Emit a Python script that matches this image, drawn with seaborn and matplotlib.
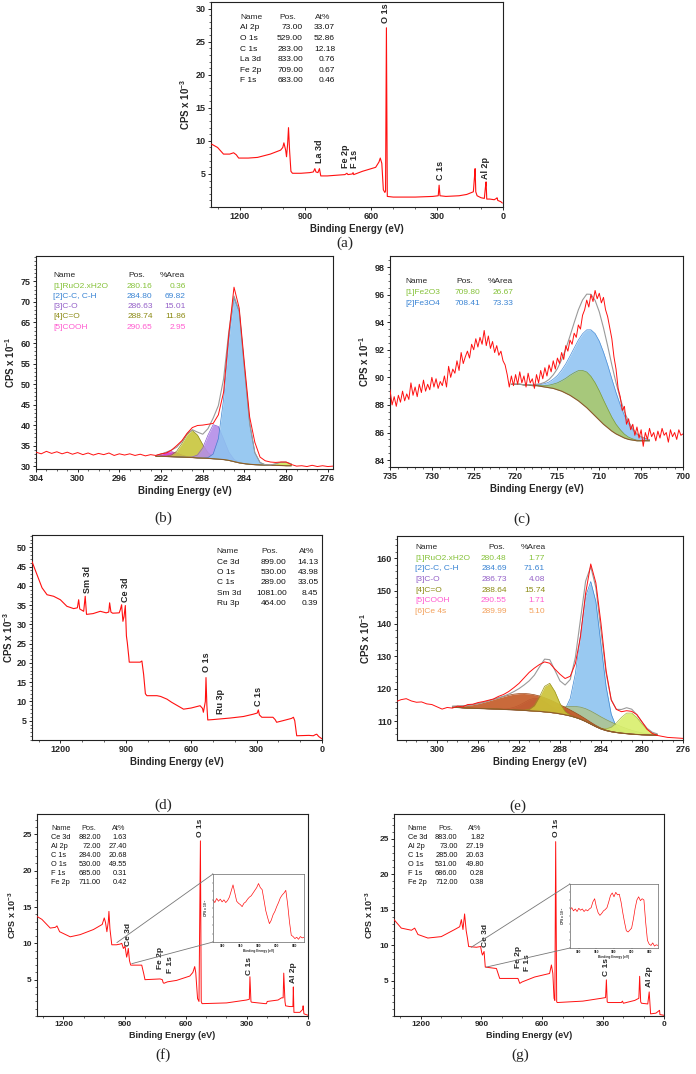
import numpy as np
import seaborn as sns
import matplotlib.pyplot as plt
from matplotlib.ticker import MultipleLocator, FixedLocator
from matplotlib.patches import ConnectionPatch

# ---------------- data ----------------
# (a) survey
a_be = [1327, 1300, 1273, 1245, 1227, 1215, 1204, 1160, 1118, 1060, 1013, 1003, 998, 990, 986,
        981, 977, 972, 966, 959, 920, 880, 864, 857, 852, 843, 836, 830, 800, 760, 720, 711,
        706, 686, 683, 680, 640, 600, 580, 565, 559, 552, 545, 538, 535, 531, 527, 500, 400,
        320, 295, 291, 287, 260, 200, 165, 150, 135, 130, 127, 124, 118, 100, 85, 80, 77, 74,
        60, 40, 30, 27, 24, 10, 3]
a_cps = [9.5, 9.0, 8.0, 8.0, 8.2, 7.9, 7.4, 7.4, 7.5, 8.0, 8.6, 9.0, 9.7, 8.6, 7.6,
         9.5, 12.0, 8.5, 5.4, 5.1, 5.1, 5.2, 5.3, 5.8, 5.3, 5.2, 5.8, 4.7, 4.7, 4.8, 4.9, 5.1,
         4.9, 5.0, 5.2, 4.9, 5.4, 5.8, 6.0, 6.8, 7.4, 6.6, 2.6, 2.2, 2.4, 27.1, 1.6, 1.5, 1.5,
         1.6, 1.7, 3.3, 1.7, 1.6, 1.7, 1.9, 2.1, 2.3, 4.5, 5.8, 2.3, 1.7, 1.4, 1.3, 3.0, 3.8, 1.2,
         1.2, 1.1, 1.3, 1.4, 1.0, 0.8, 0.6]
a_names = ['Al 2p', 'O 1s', 'C 1s', 'La 3d', 'Fe 2p', 'F 1s']
a_pos = [73.00, 529.00, 283.00, 833.00, 709.00, 683.00]
a_at = [33.07, 52.86, 12.18, 0.76, 0.67, 0.46]
a_peaks = ['O 1s', 'La 3d', 'Fe 2p', 'F 1s', 'C 1s', 'Al 2p']
a_peak_be = [536, 835, 718, 676, 286, 79]
a_peak_y = [27.8, 6.6, 5.9, 5.9, 4.1, 4.3]

# (b) C 1s high resolution
b_cps = [33.4, 33.0, 33.6, 33.1, 33.5, 33.0, 33.4, 32.9, 33.3, 32.8, 33.2, 32.7,
         33.1, 32.8, 33.2, 32.6, 33.0, 32.7, 33.0, 32.6, 32.9, 32.5, 32.8, 32.6,
         33.0, 33.2, 33.9, 35.0, 36.2, 38.0, 39.4, 39.9, 40.0, 40.2, 40.4, 42.5,
         48.0, 62.0, 73.6, 68.5, 55.0, 42.0, 35.8, 32.2, 31.3, 31.0, 30.9, 31.0,
         31.0, 30.4, 30.0, 30.1, 29.9, 30.2, 29.9, 30.1, 29.9, 30.0]
b_be = np.linspace(304, 275.5, len(b_cps))
b_bg = [32.4, 32.4, 32.35, 32.3, 32.25, 32.2, 32.15, 32.1, 32.0, 31.95, 31.9, 31.8, 31.7,
        31.6, 31.4, 31.1, 30.8, 30.6, 30.45, 30.35, 30.3, 30.25, 30.2, 30.2, 30.15, 30.1, 30.1]
b_fit_be = np.linspace(292.5, 279.5, len(b_bg))
b_centre = [291.0, 289.0, 286.8, 284.85, 280.2]
b_height = [1.2, 6.6, 8.6, 40.5, 0.9]
b_fwhm = [1.8, 2.0, 1.8, 1.9, 1.4]
b_names = ['[1]RuO2.xH2O', '[2]C-C, C-H', '[3]C-O', '[4]C=O', '[5]COOH']
b_pos = [280.16, 284.80, 286.63, 288.74, 290.65]
b_area = [0.36, 69.82, 15.01, 11.86, 2.95]

# (c) Fe 2p high resolution
c_cps = [89.1, 88.0, 88.6, 87.9, 88.7, 88.2, 89.0, 88.3, 88.8, 88.4, 89.6, 88.7,
         89.3, 88.6, 89.5, 88.9, 89.8, 89.0, 89.5, 89.1, 90.0, 89.3, 89.9, 89.2,
         89.7, 89.4, 90.1, 89.3, 90.8, 90.0, 90.6, 90.3, 91.2, 90.5, 91.8, 91.0,
         91.5, 91.9, 91.4, 92.4, 92.0, 92.8, 92.2, 92.9, 92.4, 93.4, 92.3, 93.0,
         92.1, 92.6, 91.8, 92.3, 91.6, 91.9, 91.2, 90.9, 90.2, 89.3, 90.1, 89.4,
         90.2, 89.5, 90.4, 89.6, 90.1, 89.3, 90.3, 89.6, 89.9, 89.2, 90.2, 89.6,
         90.5, 89.9, 90.7, 90.1, 90.9, 90.4, 91.2, 90.6, 91.4, 91.0, 91.8, 91.3,
         92.3, 91.9, 92.7, 92.4, 93.2, 92.9, 93.8, 93.5, 94.5, 94.9, 95.6, 95.1,
         96.0, 95.5, 96.3, 95.7, 96.1, 95.4, 95.8, 94.9, 94.4, 93.6, 92.8, 91.5,
         90.6, 89.2, 88.6, 87.6, 87.9, 86.6, 87.0, 86.2, 86.6, 85.8, 86.4, 85.6,
         86.2, 85.0, 86.0, 85.5, 86.3, 85.7, 86.0, 85.4, 86.1, 85.6, 86.3, 85.8,
         86.0, 85.3, 86.2, 85.7, 86.0, 85.5, 86.2, 85.8, 85.9]
c_be = np.linspace(735, 700, len(c_cps))
c_bg = [89.5, 89.5, 89.5, 89.45, 89.45, 89.4, 89.4, 89.35, 89.3, 89.25, 89.2, 89.1, 89.0,
        88.85, 88.7, 88.5, 88.3, 88.05, 87.8, 87.5, 87.2, 86.9, 86.6, 86.35, 86.1, 85.9,
        85.75, 85.6, 85.5, 85.45, 85.4, 85.4, 85.4, 85.4]
c_fit_be = np.linspace(720.5, 704, len(c_bg))
c_centre = [710.7, 711.3]
c_height = [6.0, 2.6]
c_fwhm = [5.4, 4.8]
c_names = ['[1]Fe2O3', '[2]Fe3O4']
c_pos = [709.80, 708.41]
c_area = [26.67, 73.33]

# (d) survey
d_be = [1330, 1307, 1284, 1261, 1231, 1200, 1170, 1139, 1122, 1116, 1111, 1093, 1086, 1080,
        1050, 1017, 990, 978, 974, 968, 960, 930, 925, 919, 913, 908, 902, 897, 893, 886,
        884, 834, 826, 818, 810, 803, 757, 740, 711, 690, 635, 600, 559, 548, 544, 535,
        532, 528, 524, 500, 421, 360, 315, 297, 292, 287, 276, 225, 215, 208, 180, 140,
        131, 125, 116, 60, 40, 30, 24, 15, 5, 0]
d_cps = [46.3, 42.9, 39.5, 37.7, 37.3, 36.4, 34.7, 34.1, 34.3, 36.4, 34.0, 33.4, 37.3, 32.6,
         32.8, 33.4, 33.0, 33.2, 35.6, 33.2, 32.9, 33.0, 33.8, 35.1, 30.8, 32.0, 34.9, 27.0,
         25.3, 21.5, 20.2, 20.2, 20.5, 17.0, 12.0, 11.5, 11.5, 11.3, 10.6, 9.8, 8.0, 8.3, 8.9,
         8.2, 7.2, 10.0, 16.2, 9.0, 5.2, 5.3, 5.7, 6.1, 6.7, 7.0, 7.8, 6.5, 5.9, 5.9, 5.3,
         4.6, 5.0, 5.6, 5.9, 5.0, 1.1, 1.2, 1.1, 1.4, 1.5, 0.9, 0.5, 0.3]
d_names = ['Ce 3d', 'O 1s', 'C 1s', 'Sm 3d', 'Ru 3p']
d_pos = [899.00, 530.00, 289.00, 1081.00, 464.00]
d_at = [14.13, 43.98, 33.05, 8.45, 0.39]
d_peaks = ['Sm 3d', 'Ce 3d', 'O 1s', 'Ru 3p', 'C 1s']
d_peak_be = [1076, 902, 530, 467, 289]
d_peak_y = [38.2, 35.7, 17.6, 6.7, 8.8]

# (e) C 1s high resolution
e_cps = [116.0, 116.6, 116.9, 116.2, 115.8, 115.9, 115.3, 115.1, 114.4, 113.7, 114.2, 114.0,
         114.6, 114.4, 115.1, 115.2, 115.7, 116.0, 116.4, 116.8, 117.6, 118.2, 119.1, 120.3,
         121.6, 123.3, 125.0, 126.3, 127.4, 128.2, 127.8, 126.0, 124.4, 123.1, 123.8, 127.7,
         136.0, 149.3, 158.3, 152.5, 140.0, 125.5, 116.5, 113.6, 112.9, 113.2, 113.0, 112.0,
         109.8, 107.5, 106.2, 105.6, 105.3, 105.0, 104.9, 104.8, 104.7]
e_be = np.linspace(304, 276, len(e_cps))
e_bg = [114.3, 114.2, 114.1, 114.0, 113.95, 113.9, 113.85, 113.8, 113.75, 113.7, 113.6,
        113.55, 113.5, 113.4, 113.3, 113.2, 113.1, 113.0, 112.85, 112.7, 112.5, 112.25,
        111.95, 111.6, 111.15, 110.6, 109.9, 109.1, 108.3, 107.6, 107.1, 106.75, 106.5,
        106.3, 106.15, 106.0, 105.9, 105.8, 105.75, 105.7, 105.7]
e_fit_be = np.linspace(298.5, 278.5, len(e_bg))
# drawing order: C-C, broad olive, RuO2, COOH, C-O, Ce 4s, C=O
e_centre = [285.0, 285.0, 281.2, 287.6, 290.3, 291.3, 289.1]
e_height = [43.8, 4.0, 6.6, 1.5, 4.0, 5.2, 9.0]
e_fwhm = [2.3, 6.0, 2.4, 1.2, 2.8, 7.0, 1.8]
e_names = ['[1]RuO2.xH2O', '[2]C-C, C-H', '[3]C-O', '[4]C=O', '[5]COOH', '[6]Ce 4s']
e_pos = [280.48, 284.69, 286.73, 288.64, 290.55, 289.99]
e_area = [1.77, 71.61, 4.08, 15.74, 1.71, 5.10]

# (f) survey
f_be = [1330, 1306, 1265, 1240, 1232, 1219, 1167, 1118, 1053, 1010, 1000, 994, 987, 980, 977,
        972, 963, 940, 922, 914, 906, 898, 890, 886, 882, 876, 870, 816, 806, 800, 726, 715,
        711, 707, 690, 645, 580, 565, 556, 551, 542, 535, 528, 524, 520, 400, 302, 288, 285,
        280, 277, 210, 204, 200, 147, 130, 122, 119, 113, 110, 90, 74, 72, 69, 40, 26, 24,
        20, 0]
f_cps = [13.7, 13.3, 12.1, 12.2, 12.4, 11.6, 10.9, 11.2, 11.9, 12.6, 13.5, 12.9, 11.6, 13.0, 14.4,
         12.0, 9.8, 9.8, 9.9, 10.0, 9.3, 9.6, 8.1, 8.6, 9.3, 7.6, 7.0, 7.0, 5.8, 5.0, 5.1, 5.0,
         4.6, 4.5, 4.7, 4.9, 5.5, 6.0, 6.8, 6.0, 2.4, 2.0, 24.1, 2.0, 1.7, 1.8, 2.2, 2.3, 5.4,
         2.0, 1.9, 1.7, 1.7, 2.0, 2.2, 2.5, 2.5, 5.9, 2.0, 1.4, 1.3, 1.3, 4.0, 0.5, 0.5, 0.9, 1.4,
         0.3, 0.1]
f_names = ['Ce 3d', 'Al 2p', 'C 1s', 'O 1s', 'F 1s', 'Fe 2p']
f_pos = [882.00, 72.00, 284.00, 530.00, 685.00, 711.00]
f_at = [1.63, 27.40, 20.68, 49.55, 0.31, 0.42]
f_peaks = ['O 1s', 'Ce 3d', 'Fe 2p', 'F 1s', 'C 1s', 'Al 2p']
f_peak_be = [527, 881, 722, 677, 285, 70]
f_peak_y = [24.7, 9.6, 6.4, 5.9, 5.7, 4.6]
f_inset = [62, 58, 64, 60, 63, 59, 62, 58, 61, 66, 75, 84, 72, 60, 57, 55, 52, 57, 59, 63,
           66, 68, 72, 76, 80, 86, 80, 77, 62, 46, 36, 27, 32, 40, 45, 52, 58, 65, 69, 72,
           76, 56, 30, 10, 8, 5, 7, 4, 8, 6, 7]

# (g) survey
g_be = [1331, 1295, 1245, 1229, 1213, 1164, 1098, 1032, 1007, 999, 991, 983, 975, 969, 963,
        925, 904, 899, 895, 887, 881, 826, 818, 810, 720, 711, 700, 638, 564, 555, 548, 542,
        538, 534, 529, 526, 400, 309, 288, 284, 280, 276, 210, 205, 200, 144, 124, 120, 115,
        111, 80, 73, 66, 40, 22, 20, 0]
g_cps = [13.6, 12.4, 12.1, 12.4, 11.5, 11.0, 11.2, 12.2, 12.6, 13.6, 12.2, 14.4, 12.0, 11.0, 9.8,
         9.7, 9.8, 9.0, 8.6, 9.1, 6.9, 6.7, 6.0, 5.3, 5.3, 4.6, 4.8, 5.5, 6.0, 7.2, 6.0, 2.5,
         2.2, 24.6, 2.0, 1.9, 2.1, 2.5, 2.6, 5.1, 2.0, 1.9, 1.9, 2.1, 1.8, 2.2, 2.5, 5.6, 2.0,
         1.8, 1.7, 3.4, 0.3, 0.4, 0.8, 0.2, 0.1]
g_names = ['Ce 3d', 'Al 2p', 'C 1s', 'O 1s', 'F 1s', 'Fe 2p']
g_pos = [883.00, 73.00, 285.00, 531.00, 686.00, 712.00]
g_at = [1.82, 27.19, 20.63, 49.80, 0.28, 0.38]
g_peaks = ['O 1s', 'Ce 3d', 'Fe 2p', 'F 1s', 'C 1s', 'Al 2p']
g_peak_be = [531, 881, 718, 674, 284, 70]
g_peak_y = [25.3, 9.8, 6.8, 6.3, 5.6, 4.1]
g_inset = [60, 63, 58, 61, 57, 62, 59, 61, 57, 60, 58, 61, 63, 72, 77, 64, 55, 51, 54, 58,
           60, 63, 72, 82, 86, 80, 87, 83, 84, 72, 55, 40, 27, 25, 28, 31, 45, 62, 75, 80,
           74, 77, 75, 40, 12, 6, 4, 8, 3, 5, 4]
inset_be = np.linspace(925, 875, len(f_inset))

# ---------------- styling ----------------
sns.set_style('ticks')
plt.rcParams['font.family'] = ['Liberation Sans', 'DejaVu Sans']
plt.rcParams['font.weight'] = 'bold'
plt.rcParams['axes.labelweight'] = 'bold'
plt.rcParams['mathtext.fontset'] = 'custom'
plt.rcParams['mathtext.rm'] = 'Liberation Sans:bold'
plt.rcParams['mathtext.default'] = 'rm'

W, H = 696, 1074
fig = plt.figure(figsize=(W / 100, H / 100), dpi=100)


def box(l, t, r, b):
    return fig.add_axes([l / W, 1 - b / H, (r - l) / W, (b - t) / H])


def style(ax, xlim, ylim, xmaj, xmin, yticks, ymin, ylab, fs=6.5, ypad=3):
    ax.set_xlim(*xlim)
    ax.set_ylim(*ylim)
    ax.xaxis.set_major_locator(MultipleLocator(xmaj))
    ax.xaxis.set_minor_locator(MultipleLocator(xmin))
    ax.yaxis.set_major_locator(FixedLocator(yticks))
    ax.yaxis.set_minor_locator(MultipleLocator(ymin))
    ax.tick_params(which='major', length=2.5, width=0.7, labelsize=fs, pad=1.2)
    ax.tick_params(which='minor', length=1.5, width=0.5)
    for s in ax.spines.values():
        s.set_linewidth(0.8)
        s.set_color('#222222')
    ax.set_xlabel('Binding Energy (eV)', fontsize=fs + 0.5, labelpad=2)
    ax.set_ylabel(ylab, fontsize=fs + 0.5, labelpad=ypad)


def spectrum(ax, x, y, lw=0.8):
    sns.lineplot(x=x, y=y, ax=ax, color='#ff1010', lw=lw, sort=False,
                 estimator=None, legend=False, zorder=5)


def table(hx, rx, y0, dy, head, cols, colors=None, fs=6):
    for x, h in zip(hx, head):
        fig.text(x / W, 1 - y0 / H, h, fontsize=fs, fontweight='normal', va='center')
    for i, (nm, p, v) in enumerate(zip(*cols)):
        c = colors[i] if colors else '#111111'
        y = 1 - (y0 + dy * (i + 1)) / H
        fig.text(hx[0] / W, y, nm, fontsize=fs, color=c, fontweight='normal', va='center')
        fig.text(rx[0] / W, y, '%.2f' % p, fontsize=fs, color=c, fontweight='normal',
                 va='center', ha='right')
        fig.text(rx[1] / W, y, '%.2f' % v, fontsize=fs, color=c, fontweight='normal',
                 va='center', ha='right')


def peaks(ax, names, xs, ys, fs=6.5):
    for n, x, y in zip(names, xs, ys):
        ax.text(x, y, n, rotation=90, ha='center', va='bottom', fontsize=fs)


def fit(ax, x, bg, centre, height, fwhm, fills, edges, alphas=None):
    x = np.asarray(x)
    base = np.asarray(bg, float)
    total = base.copy()
    for i, (c, h, w) in enumerate(zip(centre, height, fwhm)):
        comp = h * np.exp(-4 * np.log(2) * ((x - c) / w) ** 2)
        total += comp
        a = alphas[i] if alphas else 0.9
        ax.fill_between(x, base, base + comp, color=fills[i], alpha=a, lw=0, zorder=2 + i * 0.01)
        ax.plot(x, base + comp, color=edges[i], lw=0.5, zorder=2.005 + i * 0.01)
    ax.plot(x, base, color='#8b5a2b', lw=0.8, zorder=3)
    ax.plot(x, total, color='#9a9a9a', lw=0.8, zorder=3)


def label(x, y, s):
    fig.text(x / W, 1 - y / H, s, fontsize=11, family='Liberation Serif',
             fontweight='normal', ha='center', va='center')


ylab3 = 'CPS x 10$^{-3}$'
ylab1 = 'CPS x 10$^{-1}$'
part_colors = ['#86c23a', '#3a84d4', '#9460c8', '#8c8a14', '#ff5cd0', '#f3a05a']

# (a)
ax = box(211, 2, 503, 207)
spectrum(ax, a_be, a_cps)
style(ax, (1330, 0), (0, 31), 300, 100, [5, 10, 15, 20, 25, 30], 1, ylab3)
peaks(ax, a_peaks, a_peak_be, a_peak_y)
table((240, 279, 315), (303, 335), 17.3, 10.6, ['Name', 'Pos.', 'At%'],
      (a_names, a_pos, a_at))
label(345, 243, '(a)')

# (b)
ax = box(36, 256, 333, 469)
fit(ax, b_fit_be, b_bg, b_centre, b_height, b_fwhm,
    ['#d233d2', '#c8c63c', '#b48de8', '#8ec3f0', '#cfe85a'],
    ['#a010a0', '#8d8b1c', '#8a5ad0', '#3d86d0', '#a0b830'])
spectrum(ax, b_be, b_cps, lw=0.7)
style(ax, (304, 275.5), (29.3, 81.2), 4, 1, list(range(30, 80, 5)), 1, ylab1)
table((53, 128, 160), (152.7, 185.7), 275.7, 10.3, ['Name', 'Pos.', '%Area'],
      (b_names, b_pos, b_area), part_colors)
label(163, 518, '(b)')

# (c)
ax = box(390, 256, 683, 467)
fit(ax, c_fit_be, c_bg, c_centre, c_height, c_fwhm,
    ['#92c5f2', '#a9c86e'], ['#4a8ed8', '#7a9a3a'])
spectrum(ax, c_be, c_cps, lw=0.7)
style(ax, (735, 700), (83.5, 98.8), 5, 1, list(range(84, 99, 2)), 0.5, ylab1)
table((405, 456.7, 488), (480, 513), 281.7, 10.8, ['Name', 'Pos.', '%Area'],
      (c_names, c_pos, c_area), part_colors[:2])
label(522, 519, '(c)')

# (d)
ax = box(32, 535, 322, 740)
spectrum(ax, d_be, d_cps)
style(ax, (1330, 0), (0, 53.2), 300, 100, list(range(5, 55, 5)), 1, ylab3, ypad=1)
peaks(ax, d_peaks, d_peak_be, d_peak_y)
table((216.7, 261, 299), (286.7, 318.3), 551.7, 10.4, ['Name', 'Pos.', 'At%'],
      (d_names, d_pos, d_at))
label(163, 805, '(d)')

# (e)
ax = box(397, 536, 683, 740)
fit(ax, e_fit_be, e_bg, e_centre, e_height, e_fwhm,
    ['#8ec3f0', '#b3c27a', '#d9ef6c', '#e848e8', '#a97fb5', '#c45a25', '#cbc236'],
    ['#3d86d0', '#8a9a50', '#a5b83a', '#c020c0', '#8a5a9a', '#9a4010', '#9a9420'],
    [0.9, 0.7, 0.9, 0.9, 0.9, 0.9, 0.9])
spectrum(ax, e_be, e_cps, lw=0.7)
style(ax, (303.9, 276), (104.2, 166.9), 4, 1, list(range(110, 161, 10)), 2, ylab1)
table((415, 488, 521), (506.7, 545), 547.3, 10.7, ['Name', 'Pos.', '%Area'],
      (e_names, e_pos, e_area), part_colors)
label(518, 806, '(e)')


def survey_inset(ax, rect, values, anchor_top, anchor_bot):
    ins = box(*rect)
    sns.lineplot(x=inset_be, y=values, ax=ins, color='#ff1010', lw=0.5, sort=False,
                 estimator=None, legend=False)
    ins.set_xlim(925, 875)
    ins.set_ylim(0, 100)
    ins.xaxis.set_major_locator(MultipleLocator(10))
    ins.yaxis.set_major_locator(MultipleLocator(12.5))
    ins.tick_params(length=1, width=0.3, labelsize=2.3, pad=0.5)
    ins.set_yticklabels([])
    for s in ins.spines.values():
        s.set_linewidth(0.5)
        s.set_color('#666666')
    ins.set_xlabel('Binding Energy (eV)', fontsize=2.3, labelpad=0.5)
    ins.set_ylabel(ylab3, fontsize=2.3, labelpad=0.5)
    for pa, pb in ((anchor_top, (0, 1)), (anchor_bot, (0, 0))):
        con = ConnectionPatch(xyA=pa, coordsA=ax.transData, xyB=pb, coordsB=ins.transAxes,
                              color='#777777', lw=0.6)
        fig.add_artist(con)


# (f)
ax = box(37, 814, 308, 1016)
spectrum(ax, f_be, f_cps, lw=0.7)
style(ax, (1330, 0), (0, 27.8), 300, 100, [5, 10, 15, 20, 25], 1, ylab3, fs=6)
peaks(ax, f_peaks, f_peak_be, f_peak_y, fs=6)
table((51, 81.7, 111.7), (101, 126.7), 828.3, 9.05, ['Name', 'Pos.', 'At%'],
      (f_names, f_pos, f_at), fs=5.3)
survey_inset(ax, (213, 874, 304, 942), f_inset, (938, 10.1), (865, 7.2))
label(163, 1055, '(f)')

# (g)
ax = box(394, 814, 664, 1016)
spectrum(ax, g_be, g_cps, lw=0.7)
style(ax, (1331, 0), (0, 28.5), 300, 100, [5, 10, 15, 20, 25], 1, ylab3, fs=6)
peaks(ax, g_peaks, g_peak_be, g_peak_y, fs=6)
table((407.7, 438, 468), (457.7, 484.3), 828.3, 9.05, ['Name', 'Pos.', 'At%'],
      (g_names, g_pos, g_at), fs=5.3)
survey_inset(ax, (570, 884, 658, 948), g_inset, (950, 9.7), (876, 6.9))
label(520, 1055, '(g)')

fig.savefig('out.png', dpi=100, facecolor='white')
